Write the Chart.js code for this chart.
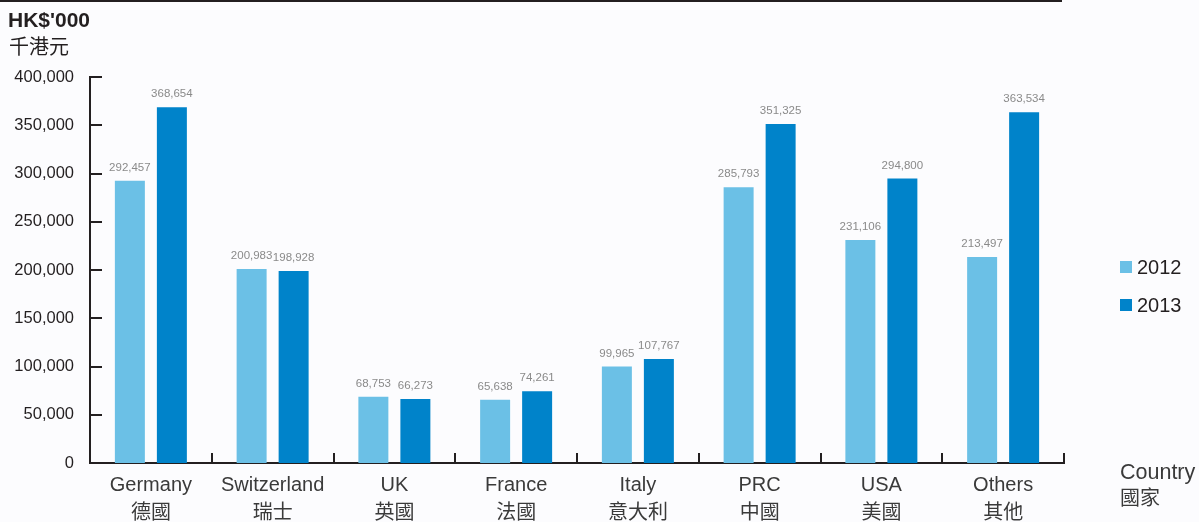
<!DOCTYPE html>
<html><head><meta charset="utf-8">
<script src="https://cdn.jsdelivr.net/npm/chart.js@4/dist/chart.umd.min.js"></script>
<style>html,body{margin:0;padding:0;background:#fcfcfe;overflow:hidden}#wrap{position:relative;width:1199px;height:522px}</style>
</head><body><div id="wrap"><canvas id="c" width="1199" height="522"></canvas></div>
<script>
const categoriesEn = ['Germany','Switzerland','UK','France','Italy','PRC','USA','Others'];
const categoriesZh = ['德國','瑞士','英國','法國','意大利','中國','美國','其他'];
const seriesNames = ['2012','2013'];
const values2012 = [292457,200983,68753,65638,99965,285793,231106,213497];
const values2013 = [368654,198928,66273,74261,107767,351325,294800,363534];
const seriesColors = ['#6bc0e6','#0083ca'];
const yMin = 0, yMax = 400000, yStep = 50000;
const unitLabels = ["HK$'000", '千港元'];
const axisTitle = ['Country', '國家'];

const FONT = "'Liberation Sans', Arial, 'Noto Sans CJK TC', sans-serif";
const AXIS = '#231f20';
const fmt = v => v.toLocaleString('en-US');

const decor = {
  id: 'decor',
  afterDraw(chart) {
    const {ctx, chartArea} = chart;
    const x = chart.scales.x, y = chart.scales.y;
    ctx.save();
    ctx.strokeStyle = AXIS; ctx.lineWidth = 2;
    ctx.beginPath(); ctx.moveTo(0, 1); ctx.lineTo(1062, 1); ctx.stroke();
    ctx.beginPath();
    y.ticks.forEach(t => {
      const py = Math.round(y.getPixelForValue(t.value));
      ctx.moveTo(chartArea.left, py); ctx.lineTo(chartArea.left + 12, py);
    });
    const step = x.getPixelForValue(1) - x.getPixelForValue(0);
    for (let i = 0; i < categoriesEn.length; i++) {
      const px = Math.round(x.getPixelForValue(i) + step / 2);
      ctx.moveTo(px, chartArea.bottom); ctx.lineTo(px, chartArea.bottom - 10);
    }
    ctx.stroke();
    ctx.font = '11.5px ' + FONT; ctx.fillStyle = '#8a8a8a';
    ctx.textAlign = 'center'; ctx.textBaseline = 'alphabetic';
    chart.data.datasets.forEach((ds, di) => {
      chart.getDatasetMeta(di).data.forEach((bar, i) => {
        ctx.fillText(fmt(ds.data[i]), bar.x, bar.y - 10);
      });
    });
    ctx.textAlign = 'left'; ctx.textBaseline = 'middle'; ctx.fillStyle = AXIS;
    ctx.font = 'bold 21px ' + FONT; ctx.fillText(unitLabels[0], 8, 21);
    ctx.font = '20px ' + FONT; ctx.fillText(unitLabels[1], 9, 48);
    chart.data.datasets.forEach((ds, di) => {
      const cy = 267 + di * 38;
      ctx.fillStyle = ds.backgroundColor;
      ctx.fillRect(1120, cy - 6, 12, 12);
      ctx.fillStyle = AXIS; ctx.font = '20px ' + FONT;
      ctx.fillText(ds.label, 1137, cy + 1);
    });
    ctx.fillStyle = '#3a3a3a'; ctx.font = '21.5px ' + FONT;
    ctx.fillText(axisTitle[0], 1120, 473);
    ctx.font = '20px ' + FONT;
    ctx.fillText(axisTitle[1], 1120, 499);
    ctx.restore();
  }
};

new Chart(document.getElementById('c'), {
  type: 'bar',
  data: {
    labels: categoriesEn.map((e, i) => [e, categoriesZh[i]]),
    datasets: [
      {label: seriesNames[0], data: values2012, backgroundColor: seriesColors[0]},
      {label: seriesNames[1], data: values2013, backgroundColor: seriesColors[1]}
    ]
  },
  options: {
    responsive: false, animation: false, devicePixelRatio: 1,
    layout: {padding: {top: 77, right: 135, left: 0, bottom: 0}},
    datasets: {bar: {categoryPercentage: 0.69, barPercentage: 0.714}},
    plugins: {legend: {display: false}, tooltip: {enabled: false}},
    scales: {
      x: {
        offset: true,
        grid: {display: false},
        border: {display: true, color: AXIS, width: 2},
        ticks: {color: '#3a3a3a', font: {family: FONT, size: 20, lineHeight: 1.4}, padding: 0, maxRotation: 0, autoSkip: false},
        afterFit(s) { s.height = 59; }
      },
      y: {
        min: yMin, max: yMax,
        grid: {display: false},
        border: {display: true, color: AXIS, width: 2},
        ticks: {stepSize: yStep, color: AXIS, font: {family: FONT, size: 16.5}, padding: 8, callback: v => fmt(v)},
        afterFit(s) { s.width = 90; }
      }
    }
  },
  plugins: [decor]
});
</script></body></html>
